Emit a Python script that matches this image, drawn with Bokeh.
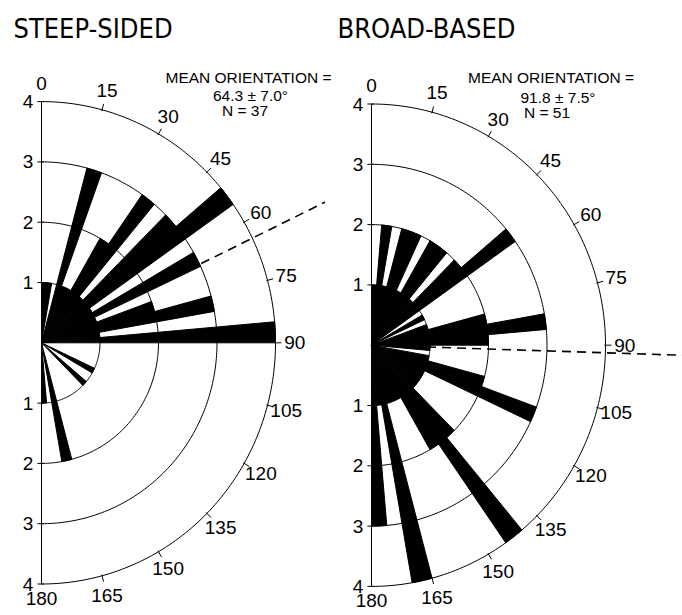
import numpy as np
from bokeh.plotting import figure
from bokeh.models import Range1d
from bokeh.core.properties import value
from bokeh.embed import file_html
from bokeh.resources import INLINE

# ---------------- data ----------------
bin_width = 5
bin_starts = list(range(0, 180, 5))
# counts per 5-degree class (0-5, 5-10, ... 175-180)
steep_counts = [1, 1, 0, 3, 1, 1, 2, 3, 1, 3, 4, 1, 3, 1, 2, 3, 1, 4,
                0, 0, 0, 0, 0, 1, 0, 0, 1, 0, 0, 0, 0, 0, 0, 2, 0, 1]
broad_counts = [1, 2, 1, 2, 2, 1, 2, 2, 1, 2, 3, 0, 1, 0, 1, 2, 3, 2,
                1, 0, 1, 2, 3, 1, 1, 1, 1, 2, 4, 2, 1, 1, 1, 4, 1, 3]
rings = [1, 2, 3, 4]
ring_labels = ["1", "2", "3", "4"]
angle_ticks = list(range(0, 181, 15))
angle_labels = [str(a) for a in angle_ticks]
titles = ["STEEP-SIDED", "BROAD-BASED"]
mean_orient = [64.3, 91.8]
mean_sd = [7.0, 7.5]
n_obs = [37, 51]

# ---------------- layout ----------------
W, H = 682, 615
PX_X, PX_Y = 58.5, 60.3          # pixels per count unit
OX, OY = 41.0, 342.3              # left rose centre, px from top-left


def to_data(fx, fy):
    return (fx - OX) / PX_X, (OY - fy) / PX_Y


x0, y1 = to_data(0, 0)
x1, y0 = to_data(W, H)
centres = [to_data(41.0, 342.3), to_data(371.0, 344.7)]
mean_line_span = [(3.03, 5.38), (0.95, 6.5)]

p = figure(width=W, height=H, x_range=Range1d(x0, x1), y_range=Range1d(y0, y1),
           output_backend="svg", toolbar_location=None, min_border=0,
           x_axis_location=None, y_axis_location=None)
p.grid.visible = False
p.outline_line_color = None
p.background_fill_color = "white"
p.border_fill_color = "white"


def polar(cx, cy, r, a):
    t = np.radians(a)
    return cx + r * np.sin(t), cy + r * np.cos(t)


NUM_FONT = "'Liberation Sans', Arial, sans-serif"
TITLE_FONT = "'DejaVu Sans Condensed', 'Liberation Sans Narrow', 'DejaVu Sans', sans-serif"

label_r = np.array([4.3 if a in (0, 180) else 4.33 for a in angle_ticks])
label_r[-1] = 4.24

for k, counts in enumerate([steep_counts, broad_counts]):
    cx, cy = centres[k]
    # petals
    pxs, pys = [], []
    for a0, c in zip(bin_starts, counts):
        if c <= 0:
            continue
        t = np.linspace(a0, a0 + bin_width, 8)
        ax, ay = polar(cx, cy, c, t)
        pxs.append([cx] + list(ax))
        pys.append([cy] + list(ay))
    p.patches(pxs, pys, fill_color="black", line_color="black", line_width=1)

    # rings
    t = np.linspace(0, 180, 181)
    rxs, rys = [], []
    for r in rings:
        ax, ay = polar(cx, cy, r, t)
        rxs.append(list(ax))
        rys.append(list(ay))
    p.multi_line(rxs, rys, line_color="black", line_width=1)

    # vertical axis with ticks
    p.line([cx, cx], [cy + rings[-1], cy - rings[-1]], line_color="black", line_width=1)
    txs, tys = [], []
    for r in rings:
        for s in (1, -1):
            txs.append([cx - 0.07, cx + 0.04])
            tys.append([cy + s * r, cy + s * r])
    # ticks on outer ring
    for a in angle_ticks[1:-1]:
        ax, ay = polar(cx, cy, np.array([rings[-1] - 0.02, rings[-1] + 0.1]), a)
        txs.append(list(ax))
        tys.append(list(ay))
    p.multi_line(txs, tys, line_color="black", line_width=1)

    # radial labels
    lx = [cx - 0.14] * (2 * len(rings))
    ly = [cy + r for r in rings] + [cy - r for r in rings]
    p.text(lx, ly, text=ring_labels + ring_labels, text_align="right",
           text_baseline="middle", text_font=value(NUM_FONT),
           text_font_size="19px", text_color="black")

    # angle labels
    ax, ay = polar(cx, cy, label_r, np.array(angle_ticks, dtype=float))
    p.text(list(ax), list(ay), text=angle_labels, text_align="center",
           text_baseline="middle", text_font=value(NUM_FONT),
           text_font_size="19px", text_color="black")

    # mean orientation line
    mx, my = polar(cx, cy, np.array(mean_line_span[k]), mean_orient[k])
    p.line(list(mx), list(my), line_color="black", line_width=1.6, line_dash="9 6")

# titles
tx = [to_data(13, 0)[0], to_data(337, 0)[0]]
ty = [to_data(0, 28)[1]] * 2
p.text(tx, ty, text=titles, text_align="left", text_baseline="alphabetic",
       text_font=value(TITLE_FONT), text_font_size="27px", text_color="black")

# mean orientation annotation
ann_text, ann_x, ann_y = [], [], []
ann_pos = [[(248, 77), (250, 95), (244.5, 110)], [(550.5, 77), (557.5, 97), (546.5, 112)]]
for k in range(2):
    lines = ["MEAN ORIENTATION =",
             f"{mean_orient[k]:.1f} \u00b1 {mean_sd[k]:.1f}\u00b0",
             f"N = {n_obs[k]}"]
    for line, (fx, fy) in zip(lines, ann_pos[k]):
        dx, dy = to_data(fx, fy)
        ann_text.append(line)
        ann_x.append(dx)
        ann_y.append(dy)
p.text(ann_x, ann_y, text=ann_text, text_align="center", text_baseline="alphabetic",
       text_font=value(NUM_FONT), text_font_size="15.5px", text_color="black")

open("out.html", "w").write(file_html(p, INLINE))
